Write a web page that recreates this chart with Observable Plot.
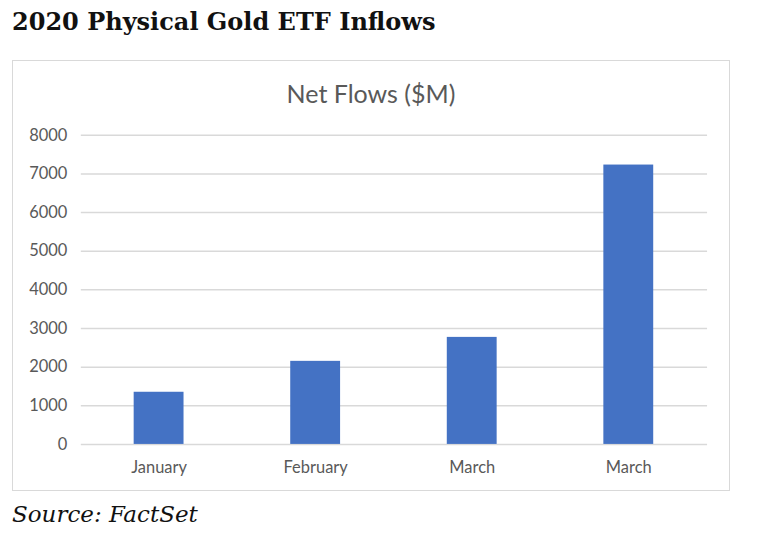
<!DOCTYPE html>
<html>
<head>
<meta charset="utf-8">
<script src="https://cdn.jsdelivr.net/npm/d3@7"></script>
<script src="https://cdn.jsdelivr.net/npm/@observablehq/plot@0.6"></script>
<style>
  html, body { margin: 0; padding: 0; background: #fff; }
  #page { position: relative; width: 760px; height: 538px; overflow: hidden; }
  #title { position: absolute; left: 12px; top: 7px; font-family: "DejaVu Serif", Georgia, serif; font-weight: bold; font-size: 24px; color: #111; white-space: nowrap; }
  #box { position: absolute; left: 12px; top: 60px; width: 716px; height: 429px; border: 1.5px solid #d9d9d9; }
  #inner { position: absolute; left: 0; width: 100%; top: 17px; text-align: center; font-family: Lato, "Open Sans", sans-serif; font-size: 25px; color: #595959; }
  #chart { position: absolute; left: 0; top: 0; }
  #source { position: absolute; left: 12px; top: 501px; font-family: "DejaVu Serif", Georgia, serif; font-style: italic; font-size: 23px; color: #111; white-space: nowrap; }
</style>
</head>
<body>
<div id="page">
  <div id="title">2020 Physical Gold ETF Inflows</div>
  <div id="box">
    <div id="chart"></div>
    <div id="inner">Net Flows ($M)</div>
  </div>
  <div id="source">Source: FactSet</div>
</div>
<script>
const months = ["January", "February", "March", "March"];
const flows = [1350, 2150, 2770, 7230];
const yTicks = [0, 1000, 2000, 3000, 4000, 5000, 6000, 7000, 8000];

const data = months.map((m, i) => ({i, month: m, value: flows[i]}));

const chart = Plot.plot({
  width: 718,
  height: 431,
  marginLeft: 68,
  marginRight: 22,
  marginTop: 74,
  marginBottom: 47,
  style: {fontFamily: "Lato, 'Open Sans', sans-serif", fontSize: "16.5px", color: "#595959", background: "transparent"},
  x: {domain: d3.range(months.length), paddingInner: 0.68, paddingOuter: 0.34, align: 0.5, tickFormat: i => months[i], tickSize: 0, tickPadding: 17, label: null},
  y: {domain: [0, 8000], ticks: yTicks, tickFormat: "d", tickSize: 0, tickPadding: 14, label: null},
  marks: [
    Plot.gridY(yTicks, {stroke: "#d9d9d9", strokeOpacity: 1, strokeWidth: 1.5}),
    Plot.barY(data, {x: "i", y: "value", fill: "#4472c4"})
  ]
});
document.getElementById("chart").appendChild(chart);
</script>
</body>
</html>
